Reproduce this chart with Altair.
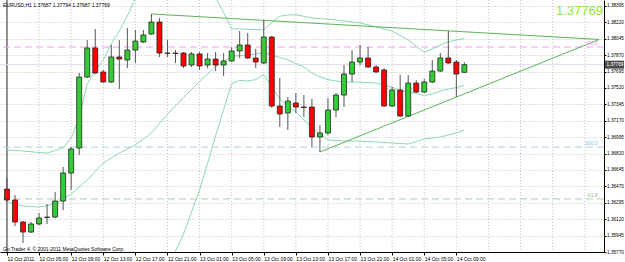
import altair as alt
import pandas as pd

FONT = "Liberation Sans"

# ---------------- data ----------------
bars = list(range(58))
opens = [1.36442, 1.36325, 1.36090, 1.35983, 1.36069, 1.36138, 1.36143, 1.36314, 1.36613, 1.36880,
         1.37637, 1.37947, 1.37691, 1.37584, 1.37851, 1.37819, 1.37925, 1.38011, 1.38096, 1.38224,
         1.37893, 1.37893, 1.37893, 1.37765, 1.37883, 1.37765, 1.37829, 1.37765, 1.37808, 1.37915,
         1.37979, 1.37840, 1.37787, 1.38064, 1.37328, 1.37253, 1.37360, 1.37317, 1.37317, 1.36997,
         1.37040, 1.37285, 1.37445, 1.37669, 1.37797, 1.37840, 1.37744, 1.37712, 1.37328, 1.37499,
         1.37221, 1.37573, 1.37477, 1.37584, 1.37701, 1.37840, 1.37797, 1.37687]
highs = [1.36560, 1.36378, 1.36101, 1.36090, 1.36186, 1.36282, 1.36410, 1.36677, 1.36890, 1.37680,
         1.38032, 1.38150, 1.37712, 1.37979, 1.38032, 1.38160, 1.38139, 1.38139, 1.38310, 1.38267,
         1.38032, 1.37925, 1.37904, 1.37904, 1.37904, 1.37893, 1.37904, 1.37893, 1.37957, 1.38128,
         1.38107, 1.37936, 1.38246, 1.38075, 1.37627, 1.37424, 1.37467, 1.37445, 1.37403, 1.37125,
         1.37413, 1.37467, 1.37765, 1.37925, 1.37979, 1.37957, 1.37765, 1.37733, 1.37531, 1.37659,
         1.37659, 1.37605, 1.37616, 1.37819, 1.37893, 1.38128, 1.37819, 1.37794]
lows = [1.36303, 1.36047, 1.35866, 1.35973, 1.36058, 1.36069, 1.36133, 1.36218, 1.36432, 1.36805,
        1.37627, 1.37669, 1.37573, 1.37573, 1.37509, 1.37733, 1.37787, 1.38000, 1.38086, 1.37851,
        1.37851, 1.37787, 1.37733, 1.37744, 1.37712, 1.37733, 1.37701, 1.37648, 1.37797, 1.37840,
        1.37829, 1.37733, 1.37776, 1.37307, 1.37104, 1.37072, 1.37253, 1.37210, 1.36890, 1.36837,
        1.37018, 1.37210, 1.37317, 1.37584, 1.37765, 1.37733, 1.37680, 1.37317, 1.37317, 1.37210,
        1.37210, 1.37467, 1.37467, 1.37573, 1.37691, 1.37776, 1.37424, 1.37687]
closes = [1.36325, 1.36090, 1.35983, 1.36069, 1.36133, 1.36143, 1.36314, 1.36613, 1.36869, 1.37637,
          1.37947, 1.37680, 1.37584, 1.37851, 1.37829, 1.37925, 1.38021, 1.38086, 1.38224, 1.37893,
          1.37890, 1.37888, 1.37755, 1.37883, 1.37755, 1.37829, 1.37765, 1.37808, 1.37915, 1.37979,
          1.37840, 1.37797, 1.38064, 1.37328, 1.37243, 1.37381, 1.37317, 1.37312, 1.36997, 1.37040,
          1.37285, 1.37445, 1.37669, 1.37797, 1.37840, 1.37744, 1.37691, 1.37328, 1.37499, 1.37221,
          1.37573, 1.37477, 1.37584, 1.37701, 1.37840, 1.37787, 1.37669, 1.37769]

# Bollinger bands
mid_bars = [0, 2, 4, 6, 8, 10, 12, 14, 16, 18, 20, 22, 24, 26, 28, 30, 32, 33, 34, 35, 36, 37, 38, 39, 40,
            42, 44, 46, 47, 48, 49, 50, 51, 52, 53, 54, 55, 56, 57]
mid_vals = [1.36303, 1.36261, 1.36250, 1.36282, 1.36389, 1.36538, 1.36720, 1.36826, 1.36912, 1.37040,
            1.37239, 1.37419, 1.37589, 1.37747, 1.37859, 1.37870, 1.37900, 1.37874, 1.37845, 1.37819,
            1.37782, 1.37744, 1.37682, 1.37639, 1.37609, 1.37582, 1.37582, 1.37574, 1.37550, 1.37530,
            1.37491, 1.37478, 1.37462, 1.37438, 1.37457, 1.37487, 1.37507, 1.37524, 1.37548]
up_bars = [0, 2, 4, 5, 7, 8, 9, 10, 11, 12, 13, 14, 15, 16, 18, 20, 22, 24, 25, 26,
           27, 28, 29, 30, 31, 32, 33, 34, 35, 36, 38, 40, 42, 44, 46, 48, 50, 51, 52, 53,
           54, 55, 56, 57]
up_vals = [1.36858, 1.36848, 1.36832, 1.36826, 1.36880, 1.36986, 1.37200, 1.37563, 1.37701, 1.37819,
           1.37989, 1.38128, 1.38288, 1.38480, 1.38779, 1.38875, 1.38875, 1.38758, 1.38640, 1.38480,
           1.38326, 1.38150, 1.38152, 1.38145, 1.38143, 1.38139, 1.38219, 1.38286, 1.38299, 1.38303,
           1.38267, 1.38254, 1.38235, 1.38214, 1.38171, 1.38128, 1.38032, 1.37968, 1.37901, 1.37936,
           1.37979, 1.38011, 1.38032, 1.38049]
lo_bars = [0, 4, 8, 10, 14, 16, 18, 20, 21, 22, 23, 24, 25, 26, 27, 28, 29, 30, 31, 32,
           33, 34, 35, 36, 38, 40, 42, 44, 46, 48, 50, 52, 54, 56, 57]
lo_vals = [1.35749, 1.35674, 1.35663, 1.35471, 1.35514, 1.35311, 1.35300, 1.35610, 1.35781, 1.35962,
           1.36197, 1.36432, 1.36714, 1.37013, 1.37288, 1.37568, 1.37600, 1.37595, 1.37610, 1.37662,
           1.37531, 1.37403, 1.37328, 1.37264, 1.37098, 1.36965, 1.36954, 1.36954, 1.36944, 1.36933,
           1.36922, 1.36976, 1.36997, 1.37040, 1.37072]

# triangle trend lines
tri_line = ["top", "top", "bottom", "bottom"]
tri_bars = [18, 73.8, 39, 73.8]
tri_vals = [1.38310, 1.38038, 1.36837, 1.38038]

# horizontal levels
fib_levels = [1.37957, 1.36890, 1.36336]
fib_labels = ["100.0", "100.0", "61.8"]
fib_colors = ["#F0A2F0", "#AED0E6", "#AECAAE"]
fib_text_colors = ["#E38FE3", "#8DB9D9", "#8DB98D"]

current_price = 1.37769
header_text = "EURUSD,H1  1.37687 1.37794 1.37687 1.37769"
copyright_text = "Go Trader 4, \u00a9 2001-2011 MetaQuotes Software Corp."

y_ticks = [1.38395, 1.38220, 1.38045, 1.37870, 1.37695, 1.37520, 1.37345, 1.37170,
           1.36995, 1.36820, 1.36645, 1.36470, 1.36295, 1.36120, 1.35945, 1.35770]
x_label_bars = [0, 4, 8, 12, 16, 20, 24, 28, 32, 36, 40, 44, 48, 52, 56]
x_labels = ["12 Oct 2011", "12 Oct 05:00", "12 Oct 09:00", "12 Oct 13:00", "12 Oct 17:00",
            "12 Oct 21:00", "13 Oct 01:00", "13 Oct 05:00", "13 Oct 09:00", "13 Oct 13:00",
            "13 Oct 17:00", "13 Oct 21:00", "14 Oct 01:00", "14 Oct 05:00", "14 Oct 09:00"]
grid_bars = [4, 8, 12, 16, 20, 24, 28, 32, 36, 40, 44, 48, 52, 56, 60, 64, 68, 72]

# ---------------- chart ----------------
X = alt.Scale(domain=[-0.245, 73.775], nice=False, zero=False)
Y = alt.Scale(domain=[1.35770, 1.38459], nice=False, zero=False)

label_expr = "[" + ",".join("'%s'" % s for s in x_labels) + "][round(datum.value / 4)]"

XA = alt.Axis(values=x_label_bars, labelExpr=label_expr, labelAlign="left", labelFont=FONT,
              labelFontSize=5, labelColor="black", tickSize=3, tickColor="black",
              domainColor="black", grid=False, labelPadding=1, labelOverlap=False,
              labelFlush=False, title=None)
YA = alt.Axis(orient="right", values=y_ticks, format=".5f", labelFont=FONT, labelFontSize=4.7,
              labelColor="black", tickSize=2, tickColor="black", domainColor="black",
              grid=True, gridDash=[1, 2], gridColor="#c4c4c4", labelPadding=0.5,
              labelOverlap=False, labelFlush=False, title=None)


def xq(field):
    return alt.X(field, type="quantitative", scale=X, axis=XA)


def yq(field):
    return alt.Y(field, type="quantitative", scale=Y, axis=YA)


candles = pd.DataFrame({"bar": bars, "open": opens, "high": highs, "low": lows, "close": closes})
candles["dir"] = ["up" if c >= o else "down" for o, c in zip(opens, closes)]

vgrid = alt.Chart(pd.DataFrame({"bar": grid_bars})).mark_rule(
    color="#c4c4c4", strokeDash=[1, 2], strokeWidth=1).encode(x=xq("bar"))

border = alt.Chart(pd.DataFrame({"bar": [0]})).mark_rule(color="#222", strokeWidth=1).encode(x=xq("bar"))

fib_df = pd.DataFrame({"price": fib_levels, "color": fib_colors, "label": fib_labels,
                       "tcolor": fib_text_colors, "bar": [73.6] * 3})
fib_rules = alt.Chart(fib_df).mark_rule(strokeDash=[7, 4], strokeWidth=1).encode(
    y=yq("price"), color=alt.Color("color:N", scale=None))
fib_text = alt.Chart(fib_df).mark_text(align="right", baseline="bottom", fontSize=5, font=FONT, dy=-1).encode(
    x=xq("bar"), y=yq("price"), text="label:N", color=alt.Color("tcolor:N", scale=None))

bid = alt.Chart(pd.DataFrame({"price": [current_price]})).mark_rule(color="#DCDCEE", strokeWidth=1).encode(
    y=yq("price"))

BAND = "#8ED8AE"


def band(bx, by):
    return alt.Chart(pd.DataFrame({"bar": bx, "price": by})).mark_line(
        color=BAND, strokeWidth=1, clip=True).encode(x=xq("bar"), y=yq("price"))


upper = band(up_bars, up_vals)
middle = band(mid_bars, mid_vals)
lower = band(lo_bars, lo_vals)

tri = alt.Chart(pd.DataFrame({"line": tri_line, "bar": tri_bars, "price": tri_vals})).mark_line(
    color="#5DB35D", strokeWidth=1, clip=True).encode(x=xq("bar"), y=yq("price"), detail="line:N")

wicks = alt.Chart(candles).mark_rule(color="#555555", strokeWidth=1, clip=True).encode(
    x=xq("bar"), y=yq("low"), y2="high:Q")

bodies = alt.Chart(candles).mark_bar(size=5, stroke="#262626", strokeWidth=0.8, clip=True).encode(
    x=xq("bar"), y=yq("open"), y2="close:Q",
    color=alt.Color("dir:N", scale=alt.Scale(domain=["up", "down"], range=["#33CC33", "#FF0000"]), legend=None))

header = alt.Chart(pd.DataFrame({"t": [header_text]})).mark_text(
    align="left", baseline="middle", fontSize=5, font=FONT, color="black").encode(
    x=alt.value(3), y=alt.value(5), text="t:N")
copyright_ = alt.Chart(pd.DataFrame({"t": [copyright_text]})).mark_text(
    align="left", baseline="middle", fontSize=5, font=FONT, color="black").encode(
    x=alt.value(3), y=alt.value(248.5), text="t:N")
big_price = alt.Chart(pd.DataFrame({"t": ["%.5f" % current_price]})).mark_text(
    align="right", baseline="alphabetic", fontSize=13, font=FONT,
    color="#8FE83A").encode(x=alt.value(603), y=alt.value(15), text="t:N")

box_df = pd.DataFrame({"price": [current_price], "t": ["%.5f" % current_price]})
box = alt.Chart(box_df).mark_tick(orient="horizontal", size=19, thickness=8, color="black").encode(
    x=alt.value(614.5), y=yq("price"))
box_text = alt.Chart(box_df).mark_text(align="left", baseline="middle", fontSize=4.7, font=FONT,
                                       color="white").encode(
    x=alt.value(606.5), y=yq("price"), text="t:N")

chart = alt.layer(
    vgrid, border, fib_rules, bid, upper, middle, lower, tri, wicks, bodies,
    fib_text, header, copyright_, big_price, box, box_text
).properties(
    width=604, height=252,
    padding={"left": 0, "top": 0, "right": 21, "bottom": 10},
    autosize=alt.AutoSizeParams(type="none"),
    background="white",
).configure_view(stroke=None)

chart.save("out.html", embed_options={"renderer": "svg", "actions": False})
